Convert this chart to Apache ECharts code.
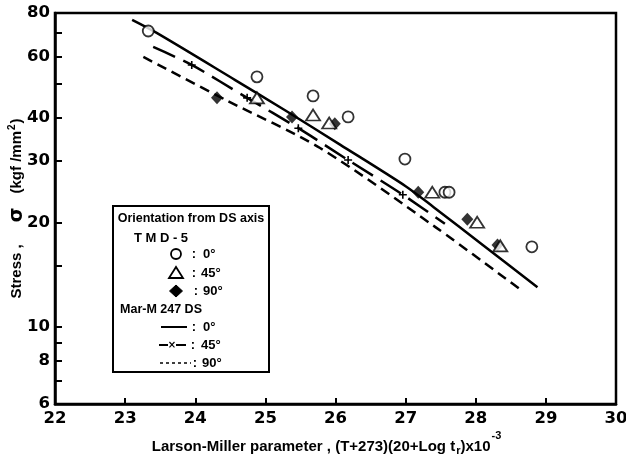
<!DOCTYPE html>
<html>
<head>
<meta charset="utf-8">
<script src="https://cdn.jsdelivr.net/npm/echarts@6/dist/echarts.min.js"></script>
<style>
  html, body { margin: 0; padding: 0; background: #fff; }
  #chart { width: 626px; height: 455px; }
</style>
</head>
<body>
<div id="chart"></div>
<script>
// TMD-5 rupture points, by orientation from the DS axis
const tmd0X  = [23.33, 24.88, 25.68, 26.18, 26.99, 27.56, 27.62, 28.80];
const tmd0Y  = [71.0, 52.4, 46.2, 40.2, 30.4, 24.4, 24.4, 17.0];
const tmd45X = [24.88, 25.68, 25.91, 27.38, 28.02, 28.35];
const tmd45Y = [45.6, 40.7, 38.6, 24.4, 20.0, 17.1];
const tmd90X = [24.31, 25.38, 25.99, 27.18, 27.88, 28.31];
const tmd90Y = [45.6, 40.2, 38.4, 24.4, 20.4, 17.2];

// Mar-M247 DS reference curves
const mar0X  = [23.10, 23.45, 24.57, 25.28, 26.07, 27.00, 27.40, 28.10, 28.88];
const mar0Y  = [76.4, 70.1, 51.3, 42.0, 33.4, 25.4, 22.1, 17.2, 13.0];
const mar45X = [23.40, 23.95, 24.74, 25.47, 26.18, 26.96, 27.56];
const mar45Y = [63.9, 56.7, 45.6, 37.3, 30.2, 24.0, 19.8];
const mar90X = [23.26, 24.47, 25.78, 27.42, 28.66];
const mar90Y = [59.8, 44.6, 32.7, 19.4, 12.7];

// Axis ticks and labels
const xTicks = [22, 23, 24, 25, 26, 27, 28, 29, 30];
const yTickValues  = [6, 7, 8, 9, 10, 15, 20, 30, 40, 50, 60, 70, 80];
const yLabelValues = [6, 8, 10, 20, 30, 40, 60, 80];

const TEXT_FONT = "'Liberation Sans', Arial, sans-serif";
const NUM_FONT = "'DejaVu Sans', sans-serif";
const LEGEND_FONT = "bold 13px 'Liberation Sans', Arial, sans-serif";
const PLUS = 'path://M-0.2,-1H0.2V-0.2H1V0.2H0.2V1H-0.2V0.2H-1V-0.2H-0.2Z';

const pairs = (xs, ys) => xs.map((x, i) => [x, ys[i]]);

const chart = echarts.init(document.getElementById('chart'), null, { renderer: 'canvas' });

const hollow = { color: '#fff', borderColor: '#000', borderWidth: 1.8 };

// small helper for the legend's text pieces
const label = (x, y, text, align, font) => ({
  type: 'text', x: x, y: y,
  style: { text: text, font: font || LEGEND_FONT, fill: '#000', textAlign: align || 'left', textVerticalAlign: 'middle' }
});

const option = {
  animation: false,
  backgroundColor: '#fff',
  grid: {
    left: 55, right: 10, top: 13, bottom: 51,
    outerBoundsMode: 'none',
    containLabel: false,
    show: true, borderColor: '#000', borderWidth: 2.5, backgroundColor: 'transparent'
  },
  xAxis: {
    type: 'value',
    min: xTicks[0], max: xTicks[xTicks.length - 1], interval: 1,
    axisLine: { show: true, onZero: false, lineStyle: { color: '#000', width: 2.5 } },
    axisTick: { show: true, inside: true, length: 6, lineStyle: { color: '#000', width: 2 } },
    axisLabel: { margin: 6, color: '#000', fontFamily: NUM_FONT, fontWeight: 'bold', fontSize: 16.5 },
    splitLine: { show: false },
    name: '{t|Larson-Miller parameter , (T+273)(20+Log t}{sub|r}{t|)x10}{sup|-3}',
    nameLocation: 'middle',
    nameGap: 26,
    nameMoveOverlap: false,
    nameTextStyle: {
      color: '#000', fontFamily: TEXT_FONT, fontWeight: 'bold', fontSize: 15,
      rich: {
        t:   { fontFamily: TEXT_FONT, fontWeight: 'bold', fontSize: 15, color: '#000' },
        sub: { fontFamily: TEXT_FONT, fontWeight: 'bold', fontSize: 11, color: '#000', padding: [8, 0, 0, 1] },
        sup: { fontFamily: TEXT_FONT, fontWeight: 'bold', fontSize: 11, color: '#000', padding: [0, 18, 22, 1] }
      }
    }
  },
  yAxis: {
    type: 'log', logBase: 10,
    min: 6, max: 80,
    axisLine: { show: true, onZero: false, lineStyle: { color: '#000', width: 2.5 } },
    axisTick: { show: true, inside: true, length: 7, lineStyle: { color: '#000', width: 2 }, customValues: yTickValues },
    axisLabel: { customValues: yLabelValues, margin: 5, color: '#000', fontFamily: NUM_FONT, fontWeight: 'bold', fontSize: 16.5 },
    splitLine: { show: false },
    minorTick: { show: false },
    name: '{t|Stress ,}{s|σ}{t|(kgf /mm}{sup|2}{t|)}',
    nameLocation: 'middle',
    nameGap: 28,
    nameMoveOverlap: false,
    nameTextStyle: {
      color: '#000', fontFamily: TEXT_FONT, fontWeight: 'bold', fontSize: 15,
      rich: {
        t:   { fontFamily: TEXT_FONT, fontWeight: 'bold', fontSize: 15, color: '#000' },
        s:   { fontFamily: NUM_FONT, fontWeight: 'bold', fontSize: 19, color: '#000', padding: [0, 14, 0, 22] },
        sup: { fontFamily: TEXT_FONT, fontWeight: 'bold', fontSize: 10, color: '#000', padding: [0, 1, 10, 1] }
      }
    }
  },
  series: [
    {
      name: 'Mar-M247 DS 0°', type: 'line', z: 2,
      data: pairs(mar0X, mar0Y),
      smooth: 0.3, showSymbol: false, symbol: 'none',
      lineStyle: { color: '#000', width: 2.5, type: 'solid' }
    },
    {
      name: 'Mar-M247 DS 45°', type: 'line', z: 2,
      data: pairs(mar45X, mar45Y).map((p, i, arr) => ({
        value: p,
        symbol: (i === 0 || i === arr.length - 1) ? 'none' : PLUS
      })),
      smooth: 0.3, showSymbol: true, symbolSize: 8,
      itemStyle: { color: '#000', borderWidth: 0 },
      lineStyle: { color: '#000', width: 2.5, type: [24, 9] }
    },
    {
      name: 'Mar-M247 DS 90°', type: 'line', z: 2,
      data: pairs(mar90X, mar90Y),
      smooth: 0.3, showSymbol: false, symbol: 'none',
      lineStyle: { color: '#000', width: 2.5, type: [10, 6] }
    },
    {
      name: 'TMD-5 90°', type: 'scatter', z: 3,
      data: pairs(tmd90X, tmd90Y),
      symbol: 'diamond', symbolSize: [12, 13],
      itemStyle: { color: '#000' }
    },
    {
      name: 'TMD-5 45°', type: 'scatter', z: 4,
      data: pairs(tmd45X, tmd45Y),
      symbol: 'triangle', symbolSize: [14, 11],
      itemStyle: hollow
    },
    {
      name: 'TMD-5 0°', type: 'scatter', z: 5,
      data: pairs(tmd0X, tmd0Y),
      symbol: 'circle', symbolSize: 11,
      itemStyle: hollow
    }
  ],
  graphic: {
    elements: [
      {
        type: 'group', left: 112, top: 205, z: 10,
        children: [
          { type: 'rect', shape: { x: 0, y: 0, width: 156, height: 166 },
            style: { fill: '#fff', stroke: '#000', lineWidth: 2 } },
          label(78, 13, 'Orientation from DS axis', 'center', "bold 12.5px 'Liberation Sans', Arial, sans-serif"),
          label(48, 32, 'T M D - 5', 'center'),

          { type: 'circle', shape: { cx: 63, cy: 48, r: 5 },
            style: { fill: '#fff', stroke: '#000', lineWidth: 1.8 } },
          label(81, 48, ':', 'center'),
          label(90, 48, '0°'),

          { type: 'polygon', shape: { points: [[56, 72], [70, 72], [63, 61]] },
            style: { fill: '#fff', stroke: '#000', lineWidth: 1.8 } },
          label(81, 67, ':', 'center'),
          label(88, 67, '45°'),

          { type: 'polygon', shape: { points: [[63, 79], [69.5, 85], [63, 91], [56.5, 85]] },
            style: { fill: '#000', stroke: '#000', lineWidth: 1 } },
          label(83, 85, ':', 'center'),
          label(90, 85, '90°'),

          label(48, 104, 'Mar-M 247 DS', 'center', "bold 12.5px 'Liberation Sans', Arial, sans-serif"),

          { type: 'line', shape: { x1: 48, y1: 121, x2: 74, y2: 121 },
            style: { stroke: '#000', lineWidth: 2 } },
          label(81, 121, ':', 'center'),
          label(90, 121, '0°'),

          { type: 'line', shape: { x1: 46, y1: 139, x2: 55, y2: 139 },
            style: { stroke: '#000', lineWidth: 2 } },
          label(59, 139, '×', 'center', "bold 10px 'DejaVu Sans', sans-serif"),
          { type: 'line', shape: { x1: 63, y1: 139, x2: 73, y2: 139 },
            style: { stroke: '#000', lineWidth: 2 } },
          label(80, 139, ':', 'center'),
          label(88, 139, '45°'),

          { type: 'line', shape: { x1: 47, y1: 157, x2: 78, y2: 157 },
            style: { stroke: '#000', lineWidth: 1.3, lineDash: [3, 3] } },
          label(82, 157, ':', 'center'),
          label(89, 157, '90°')
        ]
      }
    ]
  }
};

chart.setOption(option);
</script>
</body>
</html>
